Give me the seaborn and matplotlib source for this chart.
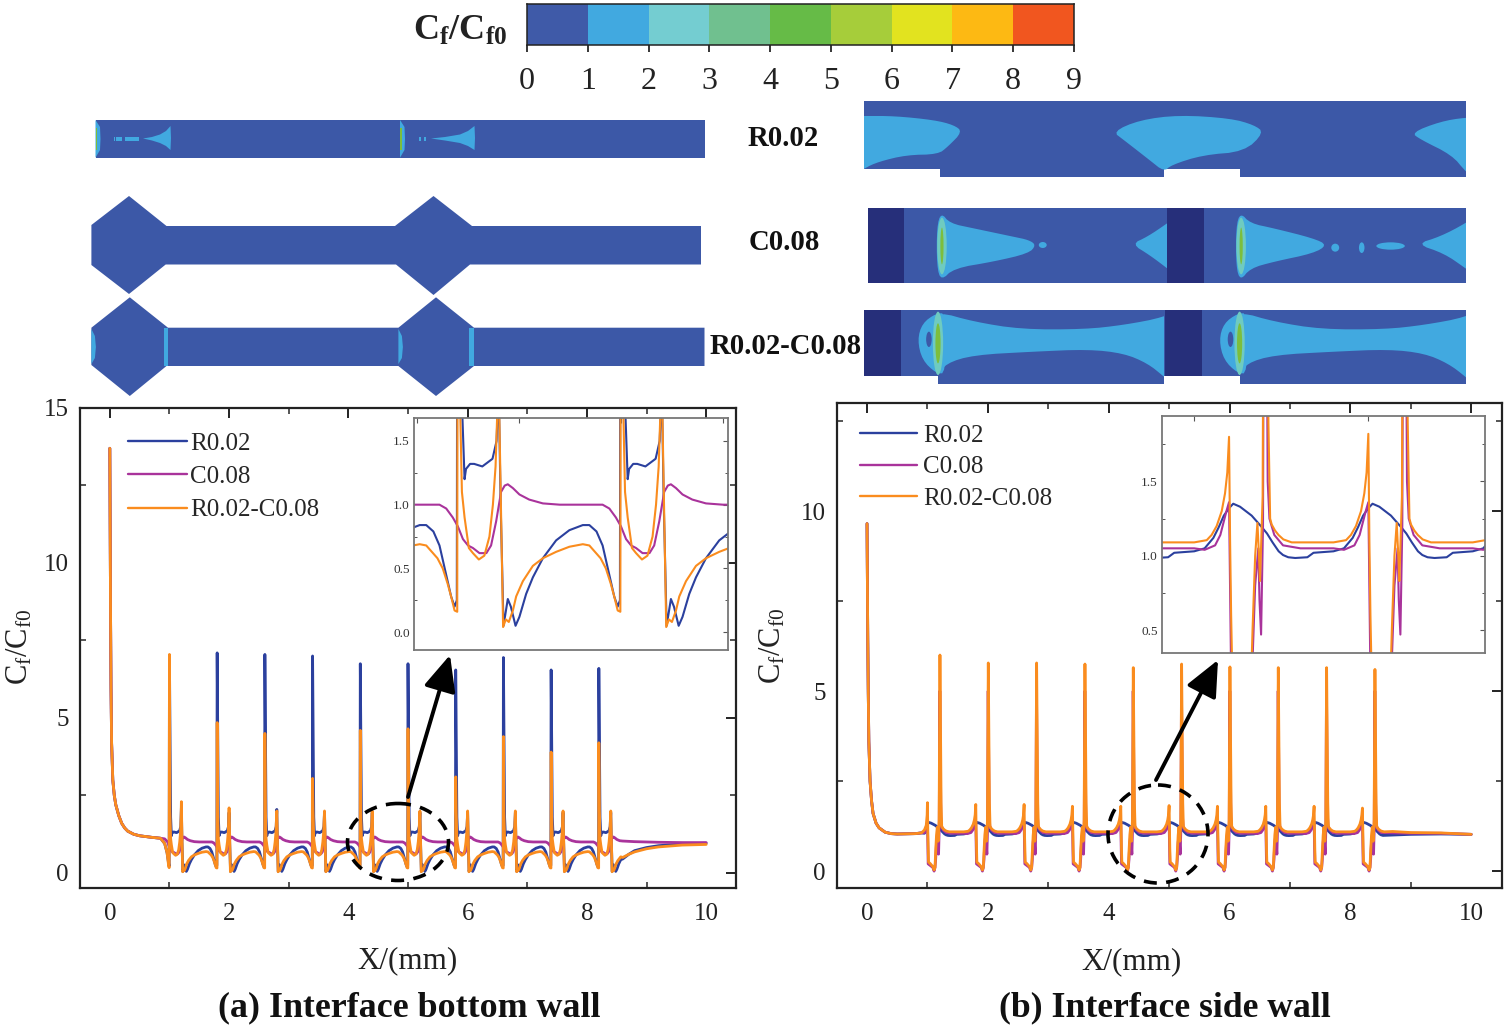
import numpy as np
import matplotlib
matplotlib.use("Agg")
import matplotlib.pyplot as plt
from matplotlib.colors import ListedColormap
from matplotlib.patches import Ellipse, FancyArrowPatch, Polygon, Rectangle
import seaborn as sns

W, H = 1505, 1027
sns.set_theme(style="white")
plt.rcParams.update({
    "font.family": ["Liberation Serif", "DejaVu Serif"],
    "mathtext.fontset": "custom",
    "mathtext.rm": "Liberation Serif",
    "mathtext.bf": "Liberation Serif:bold",
    "mathtext.it": "Liberation Serif:italic",
})

BLUE, PURPLE, ORANGE = "#2B409E", "#A9339B", "#FA8C1E"
LABELS = ["R0.02", "C0.08", "R0.02-C0.08"]
CBAR_COLORS = ["#3F5AA8", "#41A9E0", "#74CDD1", "#70C08F", "#66BB47",
               "#A6CD3A", "#E2E31F", "#FDB913", "#F1561F"]
CBAR_TICKS = list(range(10))

# ---------- (a) bottom wall: values ----------
A_PERIOD_STARTS = [1.0, 1.8, 2.6, 3.4, 4.2, 5.0, 5.8, 6.6, 7.4, 8.2]
A_BLUE_TALL = [6.9, 7.1, 7.05, 7.0, 6.75, 6.75, 6.55, 6.95, 6.55, 6.6]
A_ORANGE_TALL = [7.05, 4.85, 4.5, 3.05, 4.6, 4.65, 3.1, 4.4, 3.9, 4.2]
A_BLUE_SHORT = [2.1, 1.95, 2.05, 1.95, 1.95, 1.95, 1.95, 1.95, 1.95, 1.95]
A_ORANGE_SHORT = [2.3, 2.1, 2.0, 2.0, 2.0, 2.0, 2.0, 2.0, 2.0, 2.0]

A_INLET_X = [0.0, 0.006, 0.012, 0.02, 0.03, 0.05, 0.075, 0.1, 0.15, 0.2, 0.25, 0.3, 0.4, 0.5, 0.7, 0.85]
A_INLET_Y = [13.7, 11.0, 8.5, 6.0, 4.2, 3.0, 2.5, 2.2, 1.85, 1.6, 1.45, 1.35, 1.25, 1.2, 1.15, 1.12]
A_LEAD_X = [0.92, 0.96, 0.985, 0.995]
A_LEAD_BLUE = [0.95, 0.65, 0.32, 0.22]
A_LEAD_ORANGE = [0.95, 0.65, 0.25, 0.17]
A_LEAD_PURPLE_X = [0.92, 0.97]
A_LEAD_PURPLE = [1.1, 1.0]

A_BLUE_U = [0.0, 0.02, 0.033, 0.04, 0.06, 0.08, 0.12, 0.17, 0.19, 0.2, 0.21, 0.224,
            0.245, 0.26, 0.283, 0.302, 0.335, 0.368, 0.417, 0.482, 0.547, 0.613, 0.645, 0.68, 0.71, 0.743, 0.767, 0.784, 0.795]
A_BLUE_V = [7.0, 1.8, 1.2, 1.28, 1.32, 1.32, 1.30, 1.36, 1.5, 2.0, 1.0, 0.05,
            0.26, 0.2, 0.05, 0.12, 0.3, 0.43, 0.58, 0.72, 0.80, 0.84, 0.84, 0.79, 0.68, 0.45, 0.28, 0.2, 0.25]
A_ORANGE_U = [0.0, 0.008, 0.02, 0.033, 0.054, 0.074, 0.103, 0.13, 0.155, 0.172, 0.185, 0.195, 0.2, 0.208, 0.222,
              0.235, 0.25, 0.27, 0.286, 0.319, 0.368, 0.417, 0.482, 0.547, 0.613, 0.645, 0.70, 0.726, 0.75, 0.767, 0.784, 0.797]
A_ORANGE_V = [7.0, 2.0, 1.1, 0.9, 0.66, 0.62, 0.57, 0.6, 0.75, 1.0, 1.3, 1.8, 2.0, 1.3, 0.04,
              0.1, 0.08, 0.17, 0.28, 0.4, 0.52, 0.58, 0.63, 0.67, 0.69, 0.68, 0.58, 0.5, 0.38, 0.28, 0.17, 0.16]
A_PURPLE_U = [0.0, 0.025, 0.05, 0.074, 0.106, 0.14, 0.163, 0.188, 0.212, 0.23, 0.245, 0.27, 0.302, 0.35,
              0.417, 0.5, 0.6, 0.71, 0.743, 0.775]
A_PURPLE_V = [0.83, 0.73, 0.68, 0.66, 0.62, 0.62, 0.68, 0.87, 1.1, 1.15, 1.16, 1.13, 1.08, 1.04,
              1.01, 1.0, 1.0, 1.0, 0.97, 0.9]
A_TAIL_X = [8.6, 8.7, 8.8, 9.0, 9.2, 9.6, 10.0]
A_TAIL_BLUE = [0.45, 0.6, 0.72, 0.82, 0.88, 0.94, 0.96]
A_TAIL_ORANGE = [0.5, 0.6, 0.68, 0.78, 0.84, 0.9, 0.92]
A_TAIL_PURPLE = [1.03, 1.02, 1.01, 1.0, 0.99, 0.98, 0.98]

# ---------- (b) side wall ----------
B_PERIOD_STARTS = [1.0, 1.8, 2.6, 3.4, 4.2, 5.0, 5.8, 6.6, 7.4, 8.2]
B_ORANGE_SHORT = [1.9, 1.85, 1.85, 1.8, 1.8, 1.82, 1.8, 1.8, 1.8, 1.75]
B_ORANGE_TALL = [6.0, 5.78, 5.78, 5.75, 5.65, 5.75, 5.67, 5.65, 5.65, 5.6]
B_INLET_X = [0.0, 0.006, 0.012, 0.02, 0.03, 0.05, 0.075, 0.1, 0.15, 0.2, 0.3, 0.4, 0.5, 0.8, 0.9]
B_INLET_Y = [9.65, 8.0, 6.5, 5.0, 3.6, 2.5, 1.95, 1.6, 1.33, 1.2, 1.08, 1.04, 1.03, 1.04, 1.06]
B_LEAD_X = [0.95, 0.98, 0.995]
B_LEAD_ORANGE = [1.14, 1.27, 1.56]
B_LEAD_PURPLE = [1.07, 1.14, 1.3]
B_LEAD_BLUE = [1.05, 1.12, 1.27]

B_ORANGE_U = [0.0, 0.006, 0.012, 0.018, 0.05, 0.09, 0.11, 0.125, 0.135, 0.15, 0.163, 0.172,
              0.178, 0.193, 0.207, 0.226, 0.236, 0.245, 0.264, 0.284, 0.312, 0.36, 0.41, 0.5, 0.6, 0.672, 0.70, 0.729, 0.758, 0.777, 0.79]
B_ORANGE_V = [1.8, 1.1, 0.6, 0.25, 0.2, 0.12, 0.03, 0.1, 0.5, 1.0, 1.22, 1.0,
              0.83, 1.4, 5.8, 1.9, 1.25, 1.21, 1.17, 1.14, 1.11, 1.09, 1.09, 1.09, 1.09, 1.105, 1.14, 1.2, 1.3, 1.42, 1.56]
B_PURPLE_U = [0.0, 0.006, 0.012, 0.05, 0.09, 0.11, 0.125, 0.135, 0.15, 0.168, 0.175, 0.184,
              0.195, 0.205, 0.222, 0.232, 0.26, 0.31, 0.41, 0.6, 0.66, 0.72, 0.75, 0.785]
B_PURPLE_V = [1.36, 0.8, 0.2, 0.15, 0.1, 0.0, 0.1, 0.3, 0.8, 1.05, 0.7, 0.47,
              1.2, 5.0, 1.5, 1.25, 1.14, 1.07, 1.05, 1.05, 1.04, 1.07, 1.14, 1.3]
B_BLUE_U = [0.0, 0.024, 0.063, 0.13, 0.16, 0.19, 0.218, 0.25, 0.285, 0.31, 0.34, 0.38, 0.45, 0.485, 0.6, 0.66, 0.71, 0.74, 0.77]
B_BLUE_V = [1.32, 1.35, 1.33, 1.27, 1.23, 1.19, 1.15, 1.09, 1.03, 1.005, 0.99, 0.985, 0.99, 1.02, 1.03, 1.05, 1.12, 1.19, 1.27]
B_TAIL_X = [8.7, 9.0, 9.5, 10.0]
B_TAIL_ORANGE = [1.1, 1.07, 1.06, 1.02]
B_TAIL_PURPLE = [1.06, 1.05, 1.05, 1.02]
B_TAIL_BLUE = [1.0, 1.02, 1.03, 1.02]

# ---------- field maps: outlines in picture pixels ----------
MAP_BLUE, MAP_DARK, MAP_CYAN = "#3C58A7", "#262F7A", "#41A9E0"
MAP_TEAL, MAP_GREEN = "#6FCBC0", "#7DBE3C"
HEX1_X = [91.4, 129, 166.5, 395, 433.5, 472, 701, 701, 470, 433.5, 396, 165.7, 129, 91.4]
HEX1_Y = [225, 196, 226, 226, 196, 226, 226, 264.5, 264.5, 295, 264.5, 264.5, 294, 265]
HEX2_X = [91.4, 129.8, 168, 398.4, 436, 474, 704.5, 704.5, 474, 436, 398.4, 166.5, 129.8, 91.4]
HEX2_Y = [327.7, 297.3, 327.7, 327.7, 297.3, 327.7, 327.7, 366, 366, 396, 366, 366, 396, 365]
SIDE_A_X = [864, 864, 940, 940, 1164, 1164, 1240, 1240, 1465.7, 1465.7]
SIDE_A_Y = [101, 168.7, 168.7, 176.7, 176.7, 168.7, 168.7, 176.7, 176.7, 101]
SIDE_C_X = [864, 864, 938.4, 938.4, 1164, 1164, 1240, 1240, 1465.7, 1465.7]
SIDE_C_Y = [310, 376, 376, 384, 384, 376, 376, 384, 384, 310]
# blobs in (zoom-x, zoom-y) of the side wall rows; they run past the edges and are clipped
BLOB_RA = ([-60, 23, 100, 200, 250, 272, 235, 210, 130, 60, 23, -60], [78, 78, 78, 90, 105, 125, 170, 193, 195, 215, 235, 300])
BLOB_RB = ([652, 720, 820, 950, 1010, 1035, 985, 880, 800, 782, 745, 680],
           [125, 90, 75, 85, 105, 128, 185, 195, 225, 245, 210, 150])
BLOB_RC = ([1408, 1480, 1545, 1620, 1620, 1545, 1510, 1430], [128, 95, 82, 82, 330, 245, 195, 148])
BLOB_CA = ([218, 240, 300, 400, 440, 458, 440, 350, 250, 218, 207, 207],
           [368, 400, 415, 440, 450, 465, 490, 515, 535, 572, 530, 410])
BLOB_CB = ([700, 740, 790, 860, 860, 790, 745], [462, 440, 400, 340, 600, 535, 495])
BLOB_CC = ([975, 1000, 1060, 1160, 1195, 1160, 1060, 1000, 975, 964, 964],
           [368, 400, 415, 445, 465, 490, 515, 535, 572, 530, 410])
BLOB_CD = ([1420, 1480, 1545, 1620, 1620, 1545, 1490], [462, 440, 400, 340, 600, 535, 490])
ISLANDS_C = [(475, 465, 20, 18), (1215, 473, 20, 24), (1282, 473, 14, 32), (1355, 468, 72, 22)]
BLOB_DA = ([210, 300, 420, 580, 680, 782, 860, 860, 782, 740, 680, 590, 450, 300, 230, 210, 195, 195],
           [665, 695, 718, 718, 705, 682, 640, 940, 860, 820, 790, 778, 785, 795, 820, 858, 820, 700])
BLOB_DB = ([973, 1060, 1180, 1340, 1440, 1545, 1620, 1620, 1545, 1500, 1440, 1350, 1210, 1060, 990, 973, 958, 958],
           [665, 695, 718, 718, 705, 682, 640, 940, 860, 820, 790, 778, 785, 795, 820, 858, 820, 700])
HALO_X = [205, 170, 158, 170, 205, 230, 230]
HALO_Y = [670, 700, 750, 810, 850, 850, 670]
TRUMPET_1 = ([143, 152, 160, 166, 170.5, 171, 170.5, 166, 160, 152], [138.5, 137, 134.5, 131, 126, 138, 150, 146, 143, 140.5])
TRUMPET_2 = ([431, 445, 460, 468, 474.5, 475, 474.5, 468, 460, 445], [138.5, 137, 134.5, 131, 126, 138, 150, 146, 143, 140.5])


def assemble(starts, u, v, lead_x, lead_y, tail_x, tail_y, inlet_x, inlet_y, tall=None, short=None,
             tall_idx=None, short_idx=None):
    xs, ys = [np.array(inlet_x)], [np.array(inlet_y)]
    xs.append(np.array(lead_x)); ys.append(np.array(lead_y))
    for k, s in enumerate(starts):
        vals = np.array(v, dtype=float)
        if tall is not None:
            vals[tall_idx] = tall[k]
        if short is not None:
            vals[short_idx] = short[k]
        keep = np.ones(len(u), dtype=bool)
        if k == len(starts) - 1:
            keep = np.array(u) < 0.37
        xs.append(np.array(u)[keep] + s)
        ys.append(vals[keep])
    xs.append(np.array(tail_x)); ys.append(np.array(tail_y))
    return np.concatenate(xs), np.concatenate(ys)


a_blue = assemble(A_PERIOD_STARTS, A_BLUE_U, A_BLUE_V, A_LEAD_X, A_LEAD_BLUE, A_TAIL_X, A_TAIL_BLUE,
                  A_INLET_X, A_INLET_Y, A_BLUE_TALL, A_BLUE_SHORT, 0, 9)
a_purple = assemble(A_PERIOD_STARTS, A_PURPLE_U, A_PURPLE_V, A_LEAD_PURPLE_X, A_LEAD_PURPLE, A_TAIL_X, A_TAIL_PURPLE,
                    A_INLET_X, A_INLET_Y)
a_orange = assemble(A_PERIOD_STARTS, A_ORANGE_U, A_ORANGE_V, A_LEAD_X, A_LEAD_ORANGE, A_TAIL_X, A_TAIL_ORANGE,
                    A_INLET_X, A_INLET_Y, A_ORANGE_TALL, A_ORANGE_SHORT, 0, 12)
b_blue = assemble(B_PERIOD_STARTS, B_BLUE_U, B_BLUE_V, B_LEAD_X, B_LEAD_BLUE, B_TAIL_X, B_TAIL_BLUE,
                  B_INLET_X, B_INLET_Y)
b_purple = assemble(B_PERIOD_STARTS, B_PURPLE_U, B_PURPLE_V, B_LEAD_X, B_LEAD_PURPLE, B_TAIL_X, B_TAIL_PURPLE,
                    B_INLET_X, B_INLET_Y)
b_orange = assemble(B_PERIOD_STARTS, B_ORANGE_U, B_ORANGE_V, B_LEAD_X, B_LEAD_ORANGE, B_TAIL_X, B_TAIL_ORANGE,
                    B_INLET_X, B_INLET_Y, B_ORANGE_TALL, B_ORANGE_SHORT, 14, 0)
A_SERIES = [a_blue, a_purple, a_orange]
B_SERIES = [b_blue, b_purple, b_orange]
COLORS = [BLUE, PURPLE, ORANGE]

fig = plt.figure(figsize=(W / 100, H / 100), dpi=100, facecolor="white")


def axes_px(x0, y0, x1, y1, **kw):
    return fig.add_axes([x0 / W, 1 - y1 / H, (x1 - x0) / W, (y1 - y0) / H], **kw)


def style_main(ax, xlim, ylim, yticks, yminor):
    ax.set_xlim(*xlim); ax.set_ylim(*ylim)
    ax.set_xticks([0, 2, 4, 6, 8, 10]); ax.set_xticks([1, 3, 5, 7, 9], minor=True)
    ax.set_yticks(yticks); ax.set_yticks(yminor, minor=True)
    ax.tick_params(which="major", direction="in", length=7, width=1.4, top=True, right=True,
                   labelsize=18, colors="#222222")
    ax.tick_params(axis="x", pad=11)
    ax.tick_params(axis="y", pad=8)
    ax.tick_params(which="minor", direction="in", length=4, width=1.1, top=True, right=True, left=True, bottom=True)
    for s in ax.spines.values():
        s.set_linewidth(1.6); s.set_color("#222222")
    ax.set_xlabel(""); ax.set_ylabel("")


def style_inset(ax, xlim, ylim, xt, yt, ymin):
    ax.set_xlim(*xlim); ax.set_ylim(*ylim)
    ax.set_xticks(xt); ax.set_xticklabels([]); ax.set_yticks(yt); ax.set_yticks(ymin, minor=True)
    ax.tick_params(which="major", direction="in", length=3.5, width=0.8, labelsize=9.5, top=True, right=True,
                   color="#555555", labelcolor="#333333", pad=3)
    ax.tick_params(which="minor", direction="in", length=2, width=0.7, left=True, right=True, color="#555555")
    for s in ax.spines.values():
        s.set_linewidth(1.3); s.set_color("#777777")
    ax.set_xlabel(""); ax.set_ylabel("")


def plot_series(ax, series, lw, legend):
    for (x, y), c, lab in zip(series, COLORS, LABELS):
        sns.lineplot(x=x, y=y, color=c, lw=lw, ax=ax, estimator=None, sort=False, errorbar=None,
                     label=lab if legend else None, legend=legend)


# main panels
ax_a = axes_px(80, 408, 736, 888)
plot_series(ax_a, A_SERIES, 2.0, True)
style_main(ax_a, (-0.5, 10.5), (-0.485, 15.0), [0, 5, 10, 15], [2.5, 7.5, 12.5])
leg_a = ax_a.legend(loc="upper left", bbox_to_anchor=(0.073, 0.95), frameon=False, fontsize=18,
                    handlelength=2.35, handletextpad=0.15, labelspacing=0.44, borderpad=0, borderaxespad=0)

ax_b = axes_px(837, 403, 1502, 888)
plot_series(ax_b, B_SERIES, 2.0, True)
style_main(ax_b, (-0.497, 10.51), (-0.47, 13.0), [0, 5, 10], [2.5, 7.5, 12.5])
leg_b = ax_b.legend(loc="upper left", bbox_to_anchor=(0.034, 0.956), frameon=False, fontsize=18,
                    handlelength=2.3, handletextpad=0.25, labelspacing=0.36, borderpad=0, borderaxespad=0)
for leg in (leg_a, leg_b):
    for line in leg.get_lines():
        line.set_linewidth(1.7)

# overlay in picture pixels
ov = fig.add_axes([0, 0, 1, 1], zorder=5, facecolor="none")
ov.set_xlim(0, W); ov.set_ylim(H, 0); ov.axis("off")


def chaikin(x, y, n=2):
    p = np.column_stack([x, y]).astype(float)
    for _ in range(n):
        q = np.roll(p, -1, axis=0)
        p = np.column_stack([0.75 * p + 0.25 * q, 0.25 * p + 0.75 * q]).reshape(-1, 2)
    return p


def poly(x, y, c, z=2, clip=None, smooth=False):
    pts = chaikin(x, y) if smooth else np.column_stack([x, y])
    patch = Polygon(pts, closed=True, fc=c, ec="none", zorder=z)
    ov.add_patch(patch)
    if clip is not None:
        patch.set_clip_path(Rectangle((clip[0], clip[1]), clip[2] - clip[0], clip[3] - clip[1], transform=ov.transData))


def rect(x0, y0, x1, y1, c, z=2):
    ov.add_patch(Rectangle((x0, y0), x1 - x0, y1 - y0, fc=c, ec="none", zorder=z))


def sx(z):
    return 855 + np.asarray(z, dtype=float) / 2.53


def sy(z):
    return 90 + np.asarray(z, dtype=float) / 3


# left maps
rect(95.5, 120, 704.5, 157.7, MAP_BLUE)
for x0 in (95.5, 400):
    poly([x0, x0 + 4.5, x0 + 5, x0 + 4.5, x0], [120, 127, 139, 150, 157.7], MAP_CYAN, 3)
    rect(x0 + 0.4, 128, x0 + 1.8, 150, MAP_GREEN, 4)
poly(*TRUMPET_1, MAP_CYAN, 3)
poly(*TRUMPET_2, MAP_CYAN, 3)
for xa, xb in ((113.5, 115), (115.5, 122), (125, 139), (419, 421), (424, 426)):
    rect(xa, 136.5, xb, 140.5, MAP_CYAN, 3)
poly(HEX1_X, HEX1_Y, MAP_BLUE)
poly(HEX2_X, HEX2_Y, MAP_BLUE)
for x0, x1 in ((163.7, 168), (468.5, 474)):
    rect(x0, 328, x1, 366, MAP_CYAN, 3)
for x0 in (91.4, 398.4):
    poly([x0, x0 + 3.5, x0 + 4.5, x0 + 3.5, x0], [329, 336, 347, 358, 364], MAP_CYAN, 3)

# right maps
poly(SIDE_A_X, SIDE_A_Y, MAP_BLUE)
clip_a = (864, 101, 1465.7, 176.7)
for bx, by in (BLOB_RA, BLOB_RB, BLOB_RC):
    poly(sx(bx), sy(by), MAP_CYAN, 3, clip=clip_a, smooth=True)
rect(868.4, 208, 1465.7, 283, MAP_BLUE)
rect(868.4, 208, 904.4, 283, MAP_DARK, 4)
rect(1167.2, 208, 1204, 283, MAP_DARK, 4)
for bx, by in (BLOB_CA, BLOB_CB, BLOB_CC, BLOB_CD):
    poly(sx(bx), sy(by), MAP_CYAN, 3, clip=(868.4, 208, 1465.7, 283), smooth=True)
for cx, cy, w_, h_ in ISLANDS_C:
    ov.add_patch(Ellipse((sx(cx), sy(cy)), w_ / 2.53, h_ / 3, fc=MAP_CYAN, ec="none", zorder=3))
for cx in (220, 977):
    ov.add_patch(Ellipse((sx(cx), sy(468)), 24 / 2.53, 170 / 3, fc=MAP_TEAL, ec="none", zorder=4))
    ov.add_patch(Ellipse((sx(cx), sy(468)), 8 / 2.53, 110 / 3, fc=MAP_GREEN, ec="none", zorder=5))
poly(SIDE_C_X, SIDE_C_Y, MAP_BLUE)
rect(864, 310, 900.5, 376, MAP_DARK, 4)
rect(1165, 310, 1202, 376, MAP_DARK, 4)
poly(sx(BLOB_DA[0]), sy(BLOB_DA[1]), MAP_CYAN, 3, clip=(864, 310, 1164, 384), smooth=True)
poly(sx(BLOB_DB[0]), sy(BLOB_DB[1]), MAP_CYAN, 3, clip=(1202, 310, 1465.7, 384), smooth=True)
for off in (0, 763):
    poly(sx(np.array(HALO_X) + off), sy(HALO_Y), MAP_CYAN, 3, smooth=True)
    ov.add_patch(Ellipse((sx(187 + off), sy(748)), 14 / 2.53, 46 / 3, fc=MAP_BLUE, ec="none", zorder=4))
    ov.add_patch(Ellipse((sx(210 + off), sy(760)), 26 / 2.53, 190 / 3, fc=MAP_TEAL, ec="none", zorder=4))
    ov.add_patch(Ellipse((sx(210 + off), sy(760)), 13 / 2.53, 120 / 3, fc=MAP_GREEN, ec="none", zorder=5))

for t, (cx, cy) in zip(LABELS, ((783, 139), (784, 243), (786, 346))):
    ov.text(cx, cy, t, ha="center", va="center", fontsize=20.7, fontweight="bold", color="#111111", zorder=6)

# dashed circles and arrows
for c, rx, ry in (((398, 842), 50.5, 38.5), ((1158, 834), 50, 49)):
    ov.add_patch(Ellipse(c, 2 * rx, 2 * ry, fc="none", ec="black", lw=2.6, ls=(0, (3.6, 2.6)), zorder=6))
for p0, p1 in (((408, 797), (450, 655)), ((1156, 780), (1218, 660))):
    ov.add_patch(FancyArrowPatch(p0, p1, arrowstyle="-|>,head_length=1.0,head_width=0.45", mutation_scale=22,
                                 lw=2.8, color="black", shrinkA=0, shrinkB=0, zorder=6))

# insets
in_a = axes_px(414, 418, 728, 650, zorder=7)
plot_series(in_a, A_SERIES, 1.5, False)
style_inset(in_a, (3.985, 5.525), (-0.14, 1.68), [4, 4.5, 5, 5.5], [0, 0.5, 1.0, 1.5], [0.25, 0.75, 1.25])
in_b = axes_px(1162, 416, 1485, 653, zorder=7)
plot_series(in_b, B_SERIES, 1.5, False)
style_inset(in_b, (3.815, 5.67), (0.346, 1.94), [4, 5], [0.5, 1.0, 1.5], [0.75, 1.25, 1.75])

# colour bar
cb = axes_px(527, 4, 1074, 45, zorder=7)
sns.heatmap([CBAR_TICKS[:-1]], cmap=ListedColormap(CBAR_COLORS), cbar=False, ax=cb, xticklabels=False,
            yticklabels=False, vmin=-0.5, vmax=8.5)
cb.set_xticks(CBAR_TICKS); cb.set_xticklabels(CBAR_TICKS, fontsize=23)
cb.set_yticks([])
cb.tick_params(axis="x", direction="out", length=5, width=1.1, pad=11, bottom=True, color="black", labelcolor="#222222")
for s in cb.spines.values():
    s.set_visible(True); s.set_linewidth(1.1); s.set_color("#222222")

# texts
txt = dict(color="#222222", zorder=8)
ov.text(460, 31, r"$\mathbf{C_f/C_{f0}}$", ha="center", va="center", fontsize=26, **txt)
for cx, cy in ((408, 961), (1132, 962)):
    ov.text(cx, cy, "X/(mm)", ha="center", va="center", fontsize=22.4, **txt)
for cx, cy in ((20, 647), (773, 646)):
    ov.text(cx, cy, r"$\mathrm{C_f/C_{f0}}$", ha="center", va="center", rotation=90, fontsize=22, **txt)
ov.text(409, 1008, "(a) Interface bottom wall", ha="center", va="center", fontsize=25.8, fontweight="bold", color="#111111")
ov.text(1165, 1008, "(b) Interface side wall", ha="center", va="center", fontsize=25.7, fontweight="bold", color="#111111")

fig.savefig("out.png", dpi=100)
